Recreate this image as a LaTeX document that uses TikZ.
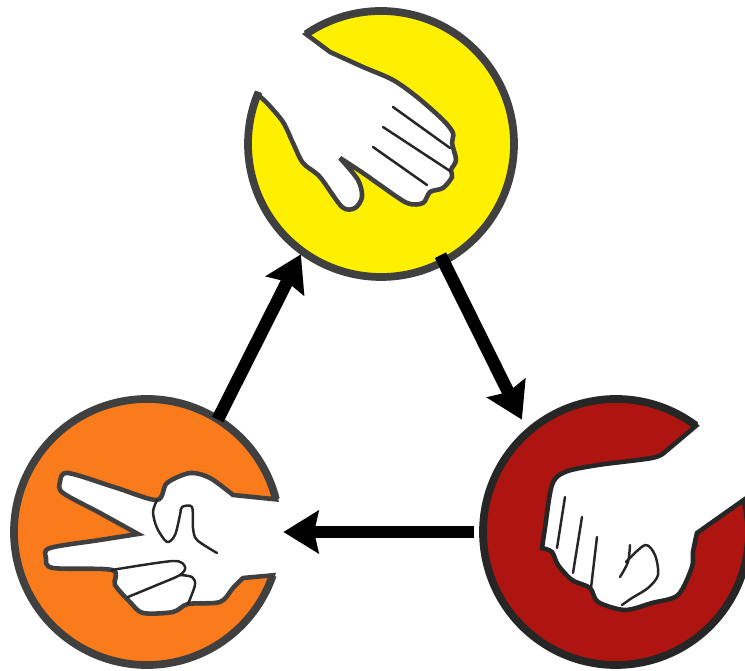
\documentclass[tikz,border=0pt]{standalone}
\usepackage{xcolor}
\usetikzlibrary{arrows.meta}
\definecolor{paperfill}{HTML}{FFF000}
\definecolor{scissorsfill}{HTML}{F97B1C}
\definecolor{rockfill}{HTML}{AE1510}
\tikzset{disc/.style = {circle, inner sep = 0, minimum size = 5.44cm}}
\tikzset{hand/.style = {line width = 2.6pt, miter limit = 6}}
\tikzset{ring/.style = {line width = 4.4pt}}
\tikzset{crease/.style = {line width = 1.4pt, black!85, line cap = round, line join = round}}
\tikzset{conn/.style = {line width = 7.2pt, -{Stealth[length = 20pt, width = 24pt, inset = 2.5pt]}}}

\begin{document}
\begin{tikzpicture}[x=0.02cm, y=-0.02cm]
    \clip (0, 0) rectangle (745, 671);
    \node[disc] (paper) at (381, 144) {};
    \node[disc] (rock) at (616, 532) {};
    \node[disc] (scissors) at (147, 532) {};

    % paper
    \draw[hand, fill=paperfill, draw=black!75] (paper.center) ++(235.7:133)
        arc[start angle=235.7, end angle=563, radius=133]
        -- plot[smooth, tension=.5] coordinates {(258,95) (267,103) (283,122) (293,143) (303,163) (320,177) (342,207) (355,208) (362,197) (358,180) (340,158)}
        -- plot[smooth, tension=.5] coordinates {(340,158) (363,173) (380,185) (407,203) (423,203) (430,192) (443,188) (452,177) (451,170) (456,160) (452,143) (453,133) (443,120) (417,97) (393,80) (363,67) (330,52)}
        -- cycle;
    \draw[ring, black!75] (paper.center) ++(235.7:133) arc[start angle=235.7, end angle=563, radius=133];
    \draw[crease] (393,107) -- (450,148);
    \draw[crease] (383,127) -- (450,171);
    \draw[crease] (373,147) -- (427,185);

    % scissors
    \draw[hand, fill=scissorsfill, draw=black!75] (scissors.center) ++(-14.2:133)
        arc[start angle=-14.2, end angle=-341, radius=133]
        -- (243,578)
        -- plot[smooth, tension=.5] coordinates {(243,578) (233,588) (220,602) (188,604) (173,612) (143,613) (130,602) (115,585) (112,570) (53,568) (46,558) (50,548) (100,540) (138,534)}
        -- plot[smooth, tension=.5] coordinates {(138,534) (100,513) (63,493) (60,482) (68,473) (117,488) (157,500) (167,483) (190,473) (210,478) (233,495)}
        -- cycle;
    \draw[ring, black!75] (scissors.center) ++(-14.2:133) arc[start angle=-14.2, end angle=-341, radius=133];
    \draw[crease] plot[smooth] coordinates {(157,500) (153,512) (157,528) (167,542) (175,535) (180,515) (182,507) (192,507) (193,528) (197,540) (217,553)};
    \draw[crease] plot[smooth] coordinates {(112,570) (173,561) (185,567) (180,575) (157,585) (128,597)};
    \draw[crease] plot[smooth] coordinates {(180,575) (192,577) (195,585) (188,604)};

    % rock
    \draw[hand, fill=rockfill, draw=black!85] (rock.center) ++(-53:133)
        arc[start angle=-53, end angle=-374.3, radius=133]
        -- (697,533)
        -- plot[smooth, tension=.5] coordinates {(697,533) (693,552) (692,567) (678,595) (652,603) (625,610) (598,602) (590,588) (572,580) (558,565) (552,552) (542,548)}
        -- plot[smooth, tension=.5] coordinates {(542,548) (545,528) (552,485) (565,472) (598,465) (652,458) (665,452)}
        -- cycle;
    \draw[ring, black!85] (rock.center) ++(-53:133) arc[start angle=-53, end angle=-374.3, radius=133];
    \draw[crease] (565,497) -- (557,548);
    \draw[crease] (582,517) -- (573,573);
    \draw[crease] (597,537) -- (591,588);
    \draw[crease] plot[smooth] coordinates {(630,545) (628,562) (620,577)};
    \draw[crease] plot[smooth] coordinates {(626,562) (645,545) (655,555) (658,575) (648,588) (632,598) (622,605)};

    \draw[conn, shorten <=-5.8pt, shorten >=6pt] (paper.-62.2) -- (rock.131.7);
    \draw[conn, shorten <=3pt] (rock.west) -- (scissors.east);
    \draw[conn, shorten <=-2pt] (scissors.58) -- (paper.-126);
\end{tikzpicture}
\end{document}
